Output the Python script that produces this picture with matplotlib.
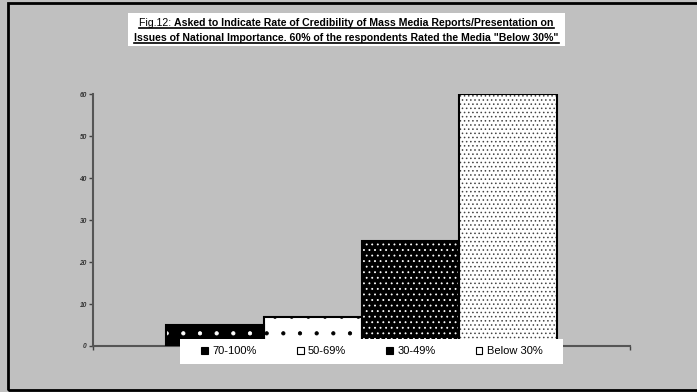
import matplotlib
matplotlib.use('Agg')
import matplotlib.pyplot as plt
from matplotlib.patches import Rectangle, Patch
from matplotlib.lines import Line2D

categories = ["70-100%", "50-69%", "30-49%", "Below 30%"]
values = [5, 7, 25, 60]
face_colors = ['black', 'white', 'black', 'white']
hatch_colors = ['white', 'black', 'white', '#444444']
hatches = ['.', '.', '...', '....']
yticks = [0, 10, 20, 30, 40, 50, 60]

title_prefix = "Fig.12: "
title_line1 = "Asked to Indicate Rate of Credibility of Mass Media Reports/Presentation on"
title_line2 = 'Issues of National Importance. 60% of the respondents Rated the Media "Below 30%"'

plt.rcParams['font.family'] = ['Liberation Sans', 'DejaVu Sans']
plt.rcParams['hatch.linewidth'] = 0.6

W, H = 697, 392
BG = '#C0C0C0'
fig = plt.figure(figsize=(W / 100, H / 100), dpi=100, facecolor=BG)

def fx(px):
    return px / W

def fy(py):
    return 1 - py / H

# outer border
fig.add_artist(Rectangle((fx(8), fy(390)), 1.2, fy(3) - fy(390), transform=fig.transFigure,
                         fill=False, edgecolor='black', linewidth=2, zorder=0))

ax = fig.add_axes([fx(93), fy(346), fx(630) - fx(93), fy(94.3) - fy(346)])
ax.set_facecolor(BG)
xs = list(range(len(categories)))
for i, v in enumerate(values):
    ax.bar(xs[i], v, width=1.0, color=face_colors[i], edgecolor=hatch_colors[i],
           hatch=hatches[i], linewidth=0, zorder=2)
    ax.bar(xs[i], v, width=1.0, fill=False, edgecolor='black', linewidth=1.5, zorder=3)

ax.set_xlim(-1.25, 4.25)
ax.set_ylim(0, 60)
ax.set_yticks(yticks)
ax.set_yticklabels([str(t) for t in yticks], fontsize=4.8, fontstyle='italic',
                   fontweight='bold', color='#333333')
ax.set_xticks([-1.25, 4.25])
ax.set_xticklabels(['', ''])
ax.tick_params(axis='both', direction='out', length=3, width=1, color='#444444', pad=1.5)
for s in ['top', 'right']:
    ax.spines[s].set_visible(False)
for s in ['left', 'bottom']:
    ax.spines[s].set_color('#555555')
    ax.spines[s].set_linewidth(1.5)

# legend box
fig.add_artist(Rectangle((fx(180), fy(364)), fx(563) - fx(180), fy(339) - fy(364),
                         transform=fig.transFigure, facecolor='white', edgecolor='none', zorder=9))
handles = [Patch(facecolor=face_colors[i], edgecolor='black', linewidth=0.8)
           for i in range(len(categories))]
leg = fig.legend(handles, categories, loc='center',
                 bbox_to_anchor=(fx(372), fy(351.5)),
                 ncol=4, fontsize=8, frameon=False,
                 handlelength=0.6, handleheight=0.6, handletextpad=0.4,
                 borderpad=0, borderaxespad=0, columnspacing=3.6)
leg.set_zorder(10)

# title box
fig.add_artist(Rectangle((fx(128), fy(46)), fx(565) - fx(128), fy(13) - fy(46),
                         transform=fig.transFigure, facecolor='white', edgecolor='none', zorder=1))

fig.canvas.draw()
r = fig.canvas.get_renderer()
TS = 7.6
cx = (128 + 565) / 2

def put_line(parts, base_py):
    texts = []
    for txt, wgt in parts:
        t = fig.text(0, fy(base_py), txt, fontsize=TS, fontweight=wgt, va='baseline',
                     ha='left', color='black', zorder=5)
        texts.append(t)
    widths = [t.get_window_extent(r).width for t in texts]
    total = sum(widths)
    left = cx - total / 2
    x0 = left
    for t, w in zip(texts, widths):
        t.set_x(fx(x0))
        x0 += w
    fig.add_artist(Line2D([fx(left), fx(left + total)], [fy(base_py + 2.2)] * 2,
                          transform=fig.transFigure, color='black', linewidth=1.2, zorder=5))

put_line([(title_prefix, 'normal'), (title_line1, 'bold')], 26)
put_line([(title_line2, 'bold')], 41)

fig.savefig('out.png', dpi=100, facecolor=BG)
